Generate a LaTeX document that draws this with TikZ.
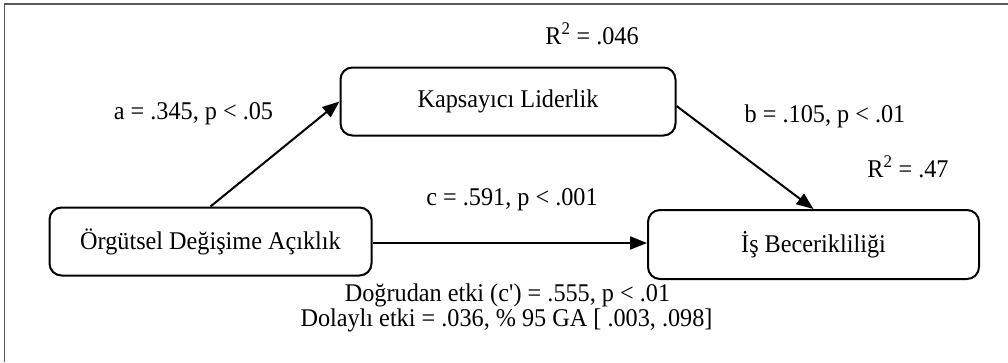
\documentclass[tikz,border=0pt]{standalone}
\usepackage{fontspec}
\setmainfont{Liberation Serif}[FakeStretch=0.95]
\usetikzlibrary{arrows.meta}
\tikzset{
  box/.style={draw=black, line width=2pt, rounded corners=12pt, inner sep=0pt},
  lbl/.style={anchor=base, inner sep=0pt, font=\fontsize{25.5}{26}\selectfont},
  arr/.style={line width=2pt, -{Triangle[length=17pt,width=13pt]}},
  frame/.style={draw=black!65, line width=1.5pt}
}
\begin{document}
\begin{tikzpicture}[x=1pt,y=-1pt]
\useasboundingbox (0,0) rectangle (1008,362);
\draw[frame] (4.5,362) -- (4.5,4) -- (1008,4);
\node[box, minimum width=335pt, minimum height=68pt, font=\fontsize{25.5}{26}\selectfont] (k) at (508,101.5) {Kapsayıcı Liderlik};
\node[box, minimum width=322pt, minimum height=68pt, font=\fontsize{25.5}{26}\selectfont] (o) at (210.5,241.5) {Örgütsel Değişime Açıklık};
\node[box, minimum width=331pt, minimum height=69pt, font=\fontsize{25.5}{26}\selectfont] (i) at (813.5,244.5) {İş Becerikliliği};
\draw[arr] (o.north) -- (k.west);
\draw[arr] ([yshift=-4.5pt]k.east) -- (i.north);
\draw[arr] ([yshift=-1.5pt]o.east) -- ([yshift=-1.5pt]o.east -| i.west);
\node[lbl] (r1) at (592,44) {R\textsuperscript{2} = .046};
\node[lbl] (la) at (193.5,119) {a = .345, p < .05};
\node[lbl] (lb) at (825,122) {b = .105, p < .01};
\node[lbl] (r2) at (908,177) {R\textsuperscript{2} = .47};
\node[lbl] (lc) at (512,205) {c = .591, p < .001};
\node[lbl] (ld) at (507.5,301) {Doğrudan etki (c\textquotesingle) = .555, p < .01};
\node[lbl] (le) at (506.5,326) {Dolaylı etki = .036, \% 95 GA [ .003, .098]};
\end{tikzpicture}
\end{document}
